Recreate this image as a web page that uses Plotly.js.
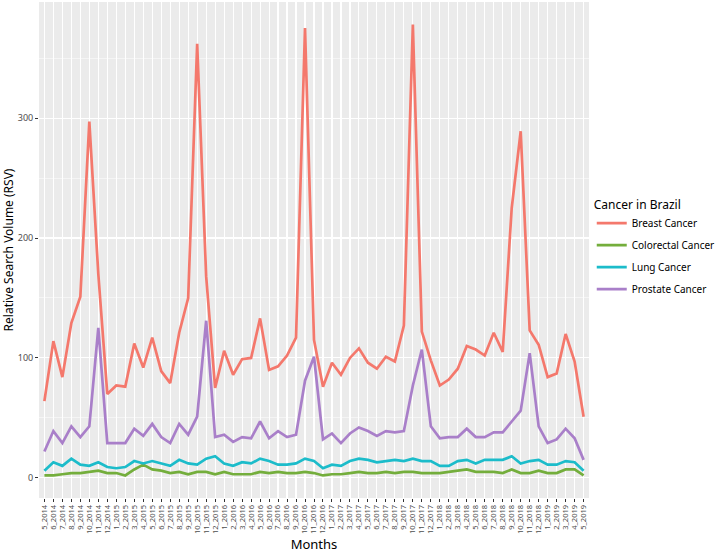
<!DOCTYPE html>
<html>
<head>
<meta charset="utf-8">
<script src="https://cdn.plot.ly/plotly-3.0.1.min.js"></script>
<style>
html,body{margin:0;padding:0;background:#fff;}
#chart{width:722px;height:554px;}
</style>
</head>
<body>
<div id="chart"></div>
<script>
const months = ["5_2014","6_2014","7_2014","8_2014","9_2014","10_2014","11_2014","12_2014",
"1_2015","2_2015","3_2015","4_2015","5_2015","6_2015","7_2015","8_2015","9_2015","10_2015","11_2015","12_2015",
"1_2016","2_2016","3_2016","4_2016","5_2016","6_2016","7_2016","8_2016","9_2016","10_2016","11_2016","12_2016",
"1_2017","2_2017","3_2017","4_2017","5_2017","6_2017","7_2017","8_2017","9_2017","10_2017","11_2017","12_2017",
"1_2018","2_2018","3_2018","4_2018","5_2018","6_2018","7_2018","8_2018","9_2018","10_2018","11_2018","12_2018",
"1_2019","2_2019","3_2019","4_2019","5_2019"];

const breast = [64,114,84,129,151,297,170,70,77,76,
112,92,117,89,79,121,150,362,168,75,
106,86,99,100,133,90,93,102,117,375,
115,76,96,86,100,108,96,91,101,97,
127,378,122,98,77,82,91,110,107,102,
121,105,225,289,123,111,84,87,120,97,51];

const colorectal = [2,2,3,4,4,5,6,4,4,2,
7,11,7,6,4,5,3,5,5,3,
5,3,3,3,5,4,5,4,4,5,
4,2,3,3,4,5,4,4,5,4,
5,5,4,4,4,5,6,7,5,5,
5,4,7,4,4,6,4,4,7,7,2];

const lung = [6,13,10,16,11,10,13,9,8,9,
14,12,14,12,10,15,12,11,16,18,
12,10,13,12,16,14,11,11,12,16,
14,8,11,10,14,16,15,13,14,15,
14,16,14,14,10,10,14,15,12,15,
15,15,18,12,14,15,11,11,14,13,6];

const prostate = [22,39,29,43,34,43,125,29,29,29,
41,35,45,34,29,45,36,51,131,34,
36,30,34,33,47,33,39,34,36,81,
101,32,37,29,37,42,39,35,39,38,
39,77,107,43,33,34,34,41,34,34,
38,38,47,56,104,43,29,32,41,33,15];

const seriesNames = ["Breast Cancer","Colorectal Cancer","Lung Cancer","Prostate Cancer"];
const seriesData = [breast, colorectal, lung, prostate];
const colors = ["#F4786C","#74AE3C","#1CBCCA","#A97FC9"];

const FONT = "Noto Sans, Open Sans, sans-serif";

const traces = seriesNames.map((n,i)=>({
  type:"scatter", mode:"lines", name:n, x:months, y:seriesData[i],
  legendgroup:"g"+i,
  line:{color:colors[i], width:2.7}
}));

const layout = {
  width:722, height:554,
  margin:{l:39, r:112, t:2, b:56},
  paper_bgcolor:"#ffffff",
  plot_bgcolor:"#EBEBEB",
  font:{family:FONT, color:"#4D4D4D"},
  showlegend:true,
  legend:{
    x:1.005, xanchor:"left", y:0.615, yanchor:"top",
    title:{text:"Cancer in Brazil", font:{size:12, color:"#000", family:FONT}},
    font:{size:10, color:"#000", family:FONT},
    bgcolor:"rgba(0,0,0,0)", tracegroupgap:3, itemwidth:30
  },
  xaxis:{
    type:"category", range:[-0.6, 60.6],
    tickmode:"array", tickvals:months, ticktext:months,
    showgrid:true, gridcolor:"#ffffff", gridwidth:1.1,
    zeroline:false, showline:false,
    ticks:"outside", ticklen:3, tickcolor:"#333333", tickwidth:1,
    tickangle:-90, tickfont:{size:7.5, color:"#4D4D4D", family:FONT},
    title:{text:"Months", font:{size:13, color:"#000", family:FONT}, standoff:6},
    automargin:false
  },
  yaxis:{
    range:[-16.8, 396.8], tickvals:[0,100,200,300],
    showgrid:true, gridcolor:"#ffffff", gridwidth:1.1,
    minor:{tickvals:[50,150,250,350], showgrid:true, gridcolor:"#ffffff", gridwidth:0.5, ticks:""},
    zeroline:false, showline:false,
    ticks:"outside", ticklen:3, tickcolor:"#333333", tickwidth:1,
    tickfont:{size:9, color:"#4D4D4D", family:FONT},
    title:{text:"Relative Search Volume (RSV)", font:{size:12, color:"#000", family:FONT}, standoff:4},
    automargin:false
  }
};

Plotly.newPlot("chart", traces, layout, {displayModeBar:false, staticPlot:true});
</script>
</body>
</html>
